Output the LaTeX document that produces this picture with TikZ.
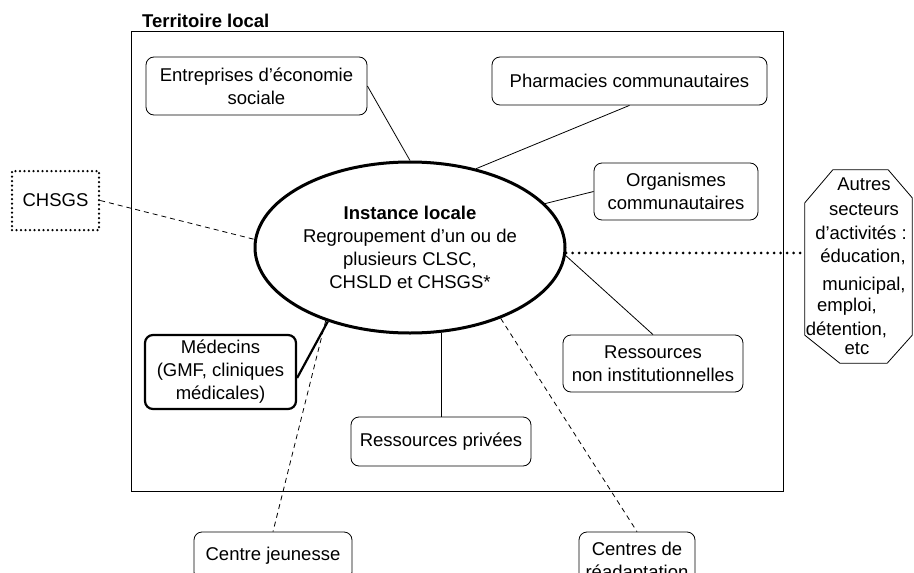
\documentclass[tikz,border=0pt]{standalone}
\usepackage{fontspec}
\setmainfont{Liberation Sans}
\usetikzlibrary{shapes.geometric}
\tikzset{
  boite/.style={draw, rounded corners=8pt, align=center, inner sep=2pt, line width=0.8pt},
  lien/.style={line width=0.8pt},
  tirets/.style={line width=0.8pt, dash pattern=on 5pt off 4pt},
  pointille/.style={line width=3pt, line cap=round, dash pattern=on 0pt off 6.5pt},
}
\newcommand{\boite}[5] {\node at (#1) (#2) [boite, minimum width=#3, minimum height=#4] {#5};}
\newcommand{\lien}[2] {\draw [lien] (#1) -- (#2);}
\newcommand{\lientirets}[2] {\draw [tirets] (#1) -- (#2);}

\begin{document}
\begin{tikzpicture}[x=1pt, y=-1pt, every node/.style={font=\fontsize{18.5}{23}\selectfont}]
\clip (0,0) rectangle (914,573);

% territoire
\node at (142,21) (titre) [anchor=west, inner sep=0pt, font=\fontsize{18.5}{23}\selectfont\bfseries] {Territoire local};
\draw [line width=0.8pt] (131,31) rectangle (783,491);

\node at (410,247.5) (instance) [ellipse, draw, line width=3pt, minimum width=310pt, minimum height=171pt, align=center, inner sep=0pt] {\textbf{Instance locale}\\Regroupement d’un ou de\\plusieurs CLSC,\\CHSLD et CHSGS*};

\boite {256.5,86} {entreprises} {221pt} {58pt} {Entreprises d’économie\\sociale}
\boite {629.5,81} {pharmacies} {275pt} {48pt} {Pharmacies communautaires}
\boite {676,191.5} {organismes} {164pt} {57pt} {Organismes\\communautaires}
\boite {653,363.5} {noninst} {180pt} {57pt} {Ressources\\non institutionnelles}
\boite {441,441.5} {privees} {180pt} {49pt} {Ressources privées}
\node at (220.5,372) (medecins) [boite, line width=2.2pt, minimum width=151pt, minimum height=74pt] {Médecins\\(GMF, cliniques\\médicales)};

% hors territoire
\node at (55.5,200.5) (chsgs) [draw, line width=2.5pt, line cap=round, dash pattern=on 0pt off 4.5pt, minimum width=87pt, minimum height=59pt] {CHSGS};
\boite {273,556} {jeunesse} {158pt} {48pt} {Centre jeunesse}
\boite {637,562} {readaptation} {116pt} {60pt} {Centres de\\réadaptation}
\node at (858.5,266.5) (autres) [minimum width=107pt, minimum height=193pt, align=center, inner sep=0pt] {\hspace*{11pt}Autres\\[2pt]\hspace*{11pt}secteurs\\[1pt]\hspace*{5pt}d’activités :\\\hspace*{9pt}éducation,\\[5pt]\hspace*{11pt}municipal,\\[-2pt]\hspace*{-23pt}emploi,\\[1pt]\hspace*{-24pt}détention,\\[-4pt]\hspace*{-3pt}etc};
\draw [line width=0.8pt] ([xshift=28pt]autres.north west) -- ([xshift=-24pt]autres.north east) -- ([yshift=-28pt]autres.north east) -- ([yshift=28pt]autres.south east) -- ([xshift=-25pt]autres.south east) -- ([xshift=35pt]autres.south west) -- ([yshift=28pt]autres.south west) -- ([yshift=-33pt]autres.north west) -- cycle;

\lien{entreprises.east}{instance.north}
\lien{pharmacies.south}{instance.50}
\lien{organismes.west}{instance.18}
\lien{noninst.north}{instance.-3}
\draw [lien] (privees.north) -- (privees.north |- instance.-70);
\draw [line width=2.2pt] ([yshift=-6pt]medecins.east) -- (instance.222);
\lientirets{chsgs.east}{instance.177}
\lientirets{instance.221}{jeunesse.north}
\lientirets{instance.-38}{readaptation.north}
\draw [pointille] (instance.-2) -- (instance.-2 -| autres.west);

\end{tikzpicture}
\end{document}
